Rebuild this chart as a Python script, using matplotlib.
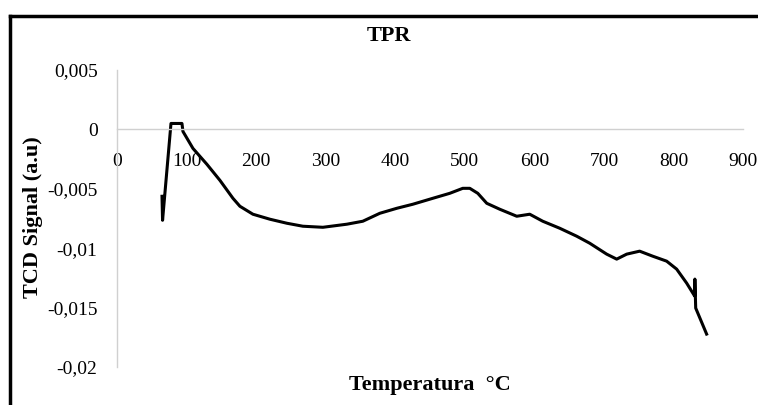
import matplotlib
matplotlib.use("Agg")
import matplotlib.pyplot as plt
from matplotlib.lines import Line2D

plt.rcParams["font.family"] = ["Liberation Serif", "DejaVu Serif"]

# valores (temperatura em C, sinal TCD em u.a.)
temperatura = [64.7, 65.5, 77.6, 93.4, 94.8, 109.2, 129.3, 148.0, 166.7, 176.7,
               195.4, 219.8, 244.3, 267.2, 296.0, 330.5, 353.4, 377.9, 402.3,
               425.3, 454.0, 478.4, 497.1, 507.2, 518.7, 531.6, 550.3, 574.7,
               593.4, 612.1, 636.5, 660.9, 679.6, 704.0, 718.4, 732.8, 751.4,
               770.1, 790.2, 804.6, 819.0, 830.5, 830.8, 832.0, 847.7]
sinal = [-0.00563, -0.00765, 0.0005, 0.0005, -0.00017, -0.0016, -0.00294,
         -0.00429, -0.0058, -0.00647, -0.00714, -0.00756, -0.0079, -0.00815,
         -0.00824, -0.00798, -0.00773, -0.00706, -0.00664, -0.0063, -0.0058,
         -0.00538, -0.00496, -0.00496, -0.00538, -0.00622, -0.00672, -0.00731,
         -0.00714, -0.00773, -0.00832, -0.00899, -0.00958, -0.0105, -0.01092,
         -0.0105, -0.01025, -0.01067, -0.01109, -0.01176, -0.01294, -0.01403,
         -0.0126, -0.01504, -0.01723]

x_ticks = [0, 100, 200, 300, 400, 500, 600, 700, 800, 900]
y_ticks = [0.005, 0, -0.005, -0.01, -0.015, -0.02]
y_labels = ["0,005", "0", "-0,005", "-0,01", "-0,015", "-0,02"]

fig = plt.figure(figsize=(7.58, 4.05), dpi=100)
ax = fig.add_axes([117 / 758, 1 - 367 / 405, 626 / 758, 297 / 405])

ax.plot(temperatura, sinal, color="black", lw=2.2, solid_joinstyle="round")

ax.set_xlim(0, 900)
ax.set_ylim(-0.02, 0.005)
ax.set_xticks(x_ticks)
ax.set_xticklabels([str(v) for v in x_ticks])
ax.set_yticks(y_ticks)
ax.set_yticklabels(y_labels)

# estilo Excel: eixo X cruzando em zero, linhas cinza, sem marcas
for s in ("top", "right"):
    ax.spines[s].set_visible(False)
ax.spines["bottom"].set_position(("data", 0))
ax.spines["bottom"].set_color("#d0d0d0")
ax.spines["left"].set_color("#d0d0d0")
ax.spines["bottom"].set_linewidth(1.0)
ax.spines["left"].set_linewidth(1.0)
ax.tick_params(axis="x", length=0, pad=17, labelsize=14)
ax.tick_params(axis="y", length=0, pad=14, labelsize=14)

fig.text(389 / 758, 1 - 36 / 405, "TPR", ha="center", va="center",
         fontsize=16, fontweight="bold")
fig.text(33 / 758, 1 - 217 / 405, "TCD Signal (a.u)", ha="center", va="center",
         rotation=90, fontsize=16, fontweight="bold")
fig.text(430 / 758, 1 - 385 / 405, "Temperatura  \u00b0C", ha="center", va="center",
         fontsize=16, fontweight="bold")

# moldura preta (topo e esquerda) do recorte original
fig.add_artist(Line2D([9.5 / 758, 1], [1 - 16 / 405, 1 - 16 / 405],
                      transform=fig.transFigure, color="black", lw=2.5))
fig.add_artist(Line2D([9.5 / 758, 9.5 / 758], [0, 1 - 16 / 405],
                      transform=fig.transFigure, color="black", lw=2.5))

fig.savefig("out.png", dpi=100)
